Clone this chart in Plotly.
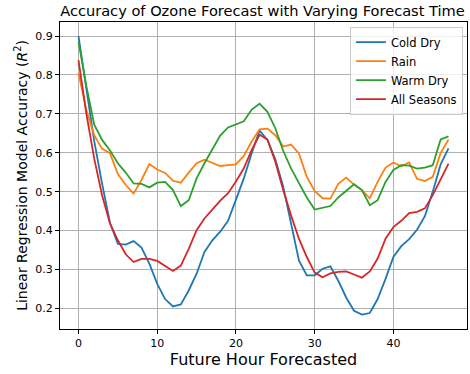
import plotly.graph_objects as go

hours = list(range(48))

cold_dry = [0.90, 0.76, 0.63, 0.52, 0.42, 0.366, 0.364, 0.373, 0.356, 0.315,
            0.263, 0.224, 0.205, 0.210, 0.246, 0.289, 0.345, 0.375, 0.397, 0.425,
            0.478, 0.534, 0.599, 0.657, 0.633, 0.583, 0.513, 0.418, 0.323, 0.285,
            0.285, 0.302, 0.308, 0.271, 0.228, 0.194, 0.184, 0.188, 0.224, 0.276,
            0.332, 0.360, 0.378, 0.402, 0.437, 0.500, 0.570, 0.611]

rain = [0.805, 0.71, 0.645, 0.61, 0.599, 0.545, 0.517, 0.495, 0.530, 0.571,
        0.557, 0.548, 0.528, 0.523, 0.549, 0.573, 0.582, 0.573, 0.566, 0.568,
        0.570, 0.592, 0.629, 0.660, 0.662, 0.645, 0.616, 0.621, 0.598, 0.538,
        0.502, 0.483, 0.482, 0.520, 0.536, 0.518, 0.504, 0.483, 0.525, 0.562,
        0.575, 0.565, 0.575, 0.533, 0.527, 0.538, 0.599, 0.634]

warm_dry = [0.885, 0.771, 0.672, 0.633, 0.606, 0.573, 0.549, 0.521, 0.520, 0.511,
            0.523, 0.525, 0.504, 0.463, 0.478, 0.534, 0.573, 0.609, 0.644, 0.665,
            0.674, 0.681, 0.711, 0.726, 0.705, 0.663, 0.605, 0.560, 0.522, 0.485,
            0.454, 0.459, 0.463, 0.485, 0.503, 0.519, 0.504, 0.465, 0.478, 0.525,
            0.556, 0.568, 0.567, 0.559, 0.562, 0.568, 0.634, 0.642]

all_seasons = [0.838, 0.70, 0.585, 0.49, 0.418, 0.375, 0.339, 0.319, 0.327, 0.327,
               0.322, 0.308, 0.296, 0.310, 0.353, 0.401, 0.431, 0.454, 0.477, 0.496,
               0.526, 0.560, 0.607, 0.646, 0.634, 0.577, 0.504, 0.439, 0.379, 0.332,
               0.292, 0.280, 0.290, 0.294, 0.295, 0.287, 0.279, 0.295, 0.328, 0.379,
               0.409, 0.425, 0.445, 0.448, 0.457, 0.491, 0.531, 0.572]

series_names = ["Cold Dry", "Rain", "Warm Dry", "All Seasons"]
series_values = [cold_dry, rain, warm_dry, all_seasons]
colors = ["#1f77b4", "#ff7f0e", "#2ca02c", "#d62728"]

x_ticks = [0, 10, 20, 30, 40]
y_ticks = [0.2, 0.3, 0.4, 0.5, 0.6, 0.7, 0.8, 0.9]

FONT = "DejaVu Sans"

fig = go.Figure()
for name, vals, c in zip(series_names, series_values, colors):
    fig.add_trace(go.Scatter(x=hours, y=vals, mode="lines", name=name,
                             line=dict(color=c, width=1.8)))

axis_common = dict(showline=True, linecolor="black", linewidth=1, mirror=True,
                   showgrid=True, gridcolor="#b0b0b0", gridwidth=1,
                   ticks="outside", ticklen=4, tickcolor="black",
                   tickfont=dict(family=FONT, size=11, color="black"),
                   zeroline=False, automargin=False)

fig.update_layout(
    width=470, height=374,
    margin=dict(l=60, r=3, t=22, b=45),
    paper_bgcolor="white", plot_bgcolor="white",
    font=dict(family=FONT, color="black"),
    title=dict(text="Accuracy of Ozone Forecast with Varying Forecast Time",
               x=0.5585, xanchor="center", y=0.97, yanchor="middle",
               font=dict(family=FONT, size=14.6, color="black")),
    xaxis=dict(range=[-2.35, 49.35], tickvals=x_ticks,
               title=dict(text="Future Hour Forecasted", standoff=2,
                          font=dict(family=FONT, size=16, color="black")),
               **axis_common),
    yaxis=dict(range=[0.147, 0.936], tickvals=y_ticks, tickformat=".1f",
               title=dict(text="Linear Regression Model Accuracy (<i>R</i><sup>2</sup>)",
                          standoff=4,
                          font=dict(family=FONT, size=14, color="black")),
               **axis_common),
    legend=dict(x=0.99, y=0.985, xanchor="right", yanchor="top",
                bgcolor="rgba(255,255,255,0.8)", bordercolor="#cccccc",
                borderwidth=1, font=dict(family=FONT, size=11.5, color="black"),
                tracegroupgap=0, itemwidth=30),
    showlegend=True,
)

fig.write_html("out.html", config={"displayModeBar": False},
               post_script="document.body.style.margin='0';document.body.style.overflow='hidden';")
